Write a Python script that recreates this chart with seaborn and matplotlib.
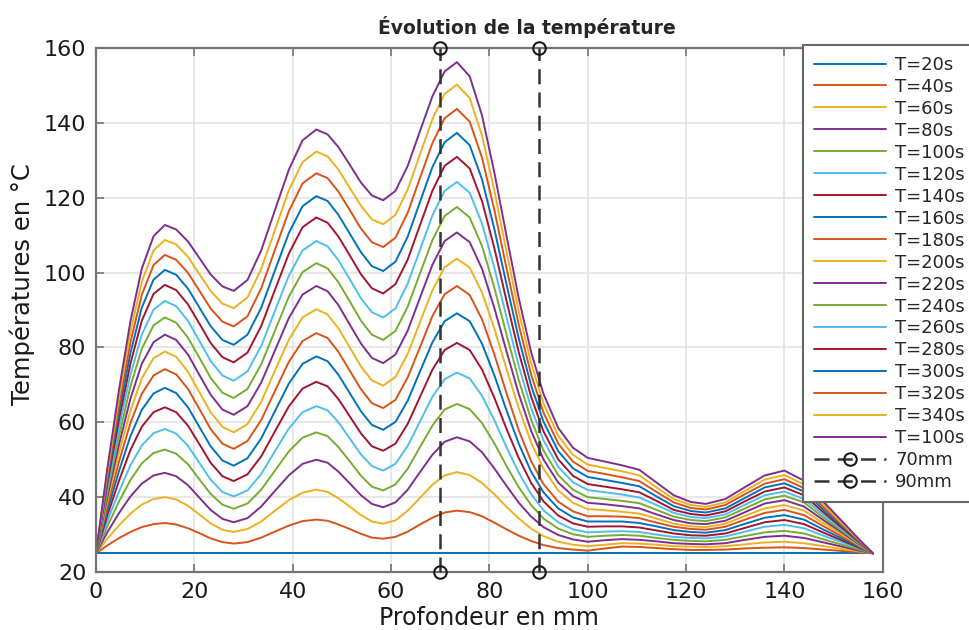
import matplotlib
matplotlib.use("Agg")
import matplotlib.pyplot as plt
import seaborn as sns

# Depth positions (mm) where temperatures were read
depth = [0, 2.3, 4.7, 7, 9.3, 11.7, 14,
         16.3, 18.7, 21, 23.3, 25.7, 28,
         30.8, 33.6, 36.4, 39.2, 42, 44.8,
         47.1, 49.3, 51.6, 53.9, 56.1, 58.4,
         60.9, 63.4, 65.9, 68.4, 70.9, 73.4,
         76, 78.5, 81, 83.5, 86, 88.5, 91, 94, 97, 100,
         103.5, 107, 110.5, 114, 117.5, 121, 124, 128, 132, 136, 140, 144, 148, 152, 155, 158]

t20_depth = [0, 158]
t20 = [25.0, 25.0]

t40 = [25.0, 27.1, 29.1, 30.7, 32.0, 32.8, 33.1,
       32.7, 31.7, 30.4, 29.0, 28.0, 27.6,
       28.0, 29.2, 30.8, 32.4, 33.6, 34.0,
       33.7, 32.7, 31.5, 30.2, 29.2, 28.9,
       29.4, 30.8, 32.7, 34.5, 35.9, 36.4,
       36.0, 34.9, 33.2, 31.4, 29.7, 28.3, 27.2, 26.4, 26.0, 25.7,
       26.3, 26.8, 26.7, 26.4, 26.1, 25.9, 25.9, 26.0, 26.3, 26.5, 26.6, 26.4, 26.0, 25.6, 25.3, 25.0]
t60 = [25.0, 28.9, 32.5, 35.6, 38.0, 39.5, 40.0,
       39.4, 37.7, 35.4, 33.0, 31.3, 30.7,
       31.5, 33.5, 36.4, 39.2, 41.2, 42.0,
       41.4, 39.7, 37.5, 35.2, 33.5, 32.9,
       33.8, 36.4, 39.8, 43.3, 45.8, 46.7,
       45.9, 43.8, 40.8, 37.4, 34.3, 31.6, 29.6, 28.1, 27.3, 26.9,
       27.3, 27.7, 27.6, 27.3, 26.9, 26.8, 26.7, 26.9, 27.4, 27.9, 28.1, 27.7, 26.9, 26.1, 25.6, 25.0]
t80 = [25.0, 30.6, 35.8, 40.2, 43.6, 45.8, 46.5,
       45.6, 43.2, 39.9, 36.6, 34.2, 33.3,
       34.4, 37.5, 41.7, 45.8, 48.9, 50.0,
       49.2, 46.8, 43.7, 40.5, 38.2, 37.3,
       38.6, 42.0, 46.7, 51.3, 54.8, 56.0,
       54.9, 52.0, 47.7, 43.0, 38.5, 34.8, 32.0, 29.9, 28.7, 28.1,
       28.5, 28.8, 28.6, 28.2, 27.7, 27.5, 27.4, 27.7, 28.6, 29.4, 29.7, 29.1, 27.9, 26.7, 25.8, 25.0]
t100 = [25.0, 32.2, 38.9, 44.6, 49.0, 51.8, 52.7,
        51.6, 48.8, 44.8, 40.9, 38.0, 36.9,
        38.3, 42.0, 47.1, 52.2, 55.9, 57.3,
        56.3, 53.4, 49.6, 45.7, 42.8, 41.8,
        43.4, 47.6, 53.4, 59.1, 63.4, 64.9,
        63.5, 59.8, 54.4, 48.3, 42.6, 37.9, 34.3, 31.6, 30.1, 29.4,
        29.7, 29.9, 29.7, 29.1, 28.6, 28.3, 28.2, 28.6, 29.6, 30.6, 31.0, 30.3, 28.7, 27.2, 26.1, 25.0]
t120 = [25.0, 33.6, 41.6, 48.5, 53.8, 57.1, 58.2,
        57.0, 53.7, 49.2, 44.7, 41.4, 40.2,
        41.8, 46.2, 52.3, 58.3, 62.7, 64.3,
        63.2, 60.0, 55.7, 51.4, 48.3, 47.1,
        48.9, 53.7, 60.2, 66.8, 71.5, 73.3,
        71.7, 67.1, 60.6, 53.3, 46.5, 40.8, 36.5, 33.3, 31.4, 30.6,
        30.8, 30.9, 30.7, 30.0, 29.4, 29.1, 29.0, 29.5, 30.8, 32.1, 32.6, 31.7, 29.7, 27.8, 26.4, 25.0]
t140 = [25.0, 35.1, 44.5, 52.6, 58.8, 62.7, 64.0,
        62.7, 59.1, 54.2, 49.2, 45.6, 44.3,
        46.1, 50.9, 57.6, 64.2, 69.0, 70.8,
        69.6, 66.2, 61.6, 57.0, 53.6, 52.4,
        54.3, 59.6, 66.8, 74.0, 79.3, 81.2,
        79.3, 74.1, 66.6, 58.2, 50.4, 43.8, 38.9, 35.1, 33.0, 32.1,
        32.2, 32.2, 31.9, 31.1, 30.3, 29.8, 29.7, 30.3, 31.8, 33.3, 33.9, 32.8, 30.5, 28.3, 26.6, 25.0]
t160 = [25.0, 36.4, 47.1, 56.3, 63.3, 67.7, 69.2,
        67.8, 64.0, 58.8, 53.6, 49.8, 48.4,
        50.4, 55.7, 63.0, 70.3, 75.6, 77.6,
        76.3, 72.7, 67.8, 62.9, 59.3, 58.0,
        60.1, 65.8, 73.6, 81.3, 87.0, 89.1,
        87.0, 81.0, 72.6, 63.1, 54.2, 46.8, 41.3, 37.0, 34.6, 33.5,
        33.5, 33.5, 33.1, 32.2, 31.2, 30.7, 30.5, 31.2, 32.9, 34.5, 35.2, 34.0, 31.3, 28.8, 26.8, 25.0]
t180 = [25.0, 37.7, 49.6, 59.8, 67.6, 72.5, 74.2,
        72.8, 68.9, 63.6, 58.2, 54.3, 52.9,
        55.0, 60.6, 68.4, 76.1, 81.7, 83.8,
        82.5, 78.8, 73.8, 68.8, 65.1, 63.8,
        66.0, 72.0, 80.1, 88.3, 94.2, 96.4,
        94.0, 87.5, 78.2, 67.7, 57.8, 49.6, 43.5, 38.8, 36.2, 34.9,
        34.9, 34.8, 34.4, 33.2, 32.1, 31.5, 31.3, 32.1, 34.0, 35.8, 36.6, 35.2, 32.2, 29.3, 27.1, 25.0]
t200 = [25.0, 39.0, 52.0, 63.1, 71.7, 77.1, 78.9,
        77.5, 73.5, 68.1, 62.7, 58.8, 57.3,
        59.5, 65.5, 73.8, 82.0, 88.0, 90.2,
        88.8, 85.1, 80.0, 74.9, 71.2, 69.8,
        72.1, 78.3, 86.8, 95.2, 101.4, 103.7,
        101.3, 94.7, 85.1, 74.2, 63.7, 54.6, 47.6, 41.8, 38.5, 36.8,
        36.5, 36.1, 35.6, 34.3, 32.9, 32.2, 32.0, 32.9, 35.0, 37.0, 37.9, 36.4, 33.0, 29.8, 27.3, 25.0]
t220 = [25.0, 40.1, 54.2, 66.3, 75.6, 81.4, 83.4,
        82.0, 78.1, 72.7, 67.4, 63.4, 62.0,
        64.3, 70.6, 79.2, 87.8, 94.1, 96.4,
        95.0, 91.3, 86.1, 81.0, 77.2, 75.8,
        78.1, 84.5, 93.3, 102.0, 108.4, 110.7,
        108.1, 101.0, 90.6, 78.9, 67.5, 57.7, 50.1, 43.9, 40.3, 38.5,
        38.1, 37.6, 37.0, 35.4, 33.9, 33.0, 32.8, 33.7, 36.0, 38.3, 39.2, 37.5, 33.8, 30.3, 27.6, 25.0]
t240 = [25.0, 41.3, 56.5, 69.6, 79.6, 85.9, 88.0,
        86.6, 82.6, 77.3, 71.9, 67.9, 66.5,
        68.9, 75.5, 84.5, 93.5, 100.1, 102.5,
        101.1, 97.4, 92.3, 87.1, 83.4, 82.0,
        84.4, 90.9, 99.8, 108.6, 115.1, 117.5,
        114.7, 107.1, 96.0, 83.4, 71.2, 60.7, 52.5, 45.9, 42.0, 40.0,
        39.5, 39.0, 38.4, 36.6, 34.8, 33.9, 33.6, 34.6, 37.0, 39.4, 40.4, 38.6, 34.5, 30.7, 27.8, 25.0]
t260 = [25.0, 42.4, 58.7, 72.7, 83.4, 90.1, 92.4,
        91.0, 87.1, 81.8, 76.4, 72.5, 71.1,
        73.6, 80.4, 89.8, 99.1, 105.9, 108.4,
        107.0, 103.3, 98.2, 93.1, 89.4, 88.0,
        90.4, 97.1, 106.1, 115.2, 121.8, 124.2,
        121.3, 113.1, 101.3, 88.0, 75.0, 63.8, 55.2, 48.1, 44.0, 41.9,
        41.3, 40.7, 39.9, 37.9, 35.8, 34.7, 34.4, 35.4, 38.0, 40.5, 41.5, 39.5, 35.2, 31.1, 28.0, 25.0]
t280 = [25.0, 43.6, 60.9, 75.7, 87.1, 94.3, 96.7,
        95.3, 91.5, 86.4, 81.2, 77.4, 76.0,
        78.6, 85.7, 95.4, 105.0, 112.1, 114.7,
        113.3, 109.6, 104.6, 99.5, 95.8, 94.4,
        96.9, 103.5, 112.7, 121.8, 128.5, 130.9,
        127.8, 119.1, 106.6, 92.4, 78.6, 66.8, 57.6, 50.1, 45.7, 43.5,
        42.8, 42.1, 41.3, 39.0, 36.6, 35.5, 35.1, 36.2, 38.9, 41.5, 42.6, 40.5, 35.9, 31.5, 28.2, 25.0]
t300 = [25.0, 44.6, 62.9, 78.5, 90.6, 98.1, 100.7,
        99.4, 95.7, 90.7, 85.7, 82.0, 80.7,
        83.4, 90.6, 100.6, 110.5, 117.7, 120.4,
        119.1, 115.4, 110.4, 105.4, 101.7, 100.4,
        102.9, 109.6, 118.9, 128.1, 134.8, 137.3,
        134.0, 124.9, 111.7, 96.8, 82.3, 69.8, 60.2, 52.3, 47.7, 45.4,
        44.6, 43.8, 42.9, 40.2, 37.6, 36.3, 35.9, 37.0, 39.8, 42.6, 43.7, 41.5, 36.6, 31.9, 28.4, 25.0]
t320 = [25.0, 45.6, 64.9, 81.4, 94.0, 102.0, 104.7,
        103.4, 99.9, 95.2, 90.4, 86.9, 85.6,
        88.3, 95.8, 106.1, 116.3, 123.8, 126.5,
        125.2, 121.6, 116.7, 111.7, 108.1, 106.8,
        109.3, 116.0, 125.3, 134.5, 141.2, 143.7,
        140.3, 130.7, 116.8, 101.1, 85.9, 72.7, 62.6, 54.3, 49.5, 47.0,
        46.2, 45.3, 44.3, 41.4, 38.6, 37.1, 36.7, 37.9, 40.8, 43.6, 44.8, 42.4, 37.3, 32.3, 28.6, 25.0]
t340 = [25.0, 46.7, 66.9, 84.2, 97.5, 105.9, 108.7,
        107.5, 104.2, 99.6, 95.1, 91.7, 90.5,
        93.3, 101.0, 111.4, 121.9, 129.5, 132.3,
        131.0, 127.5, 122.6, 117.8, 114.2, 112.9,
        115.4, 122.2, 131.6, 140.9, 147.7, 150.2,
        146.6, 136.6, 122.0, 105.5, 89.5, 75.8, 65.1, 56.4, 51.3, 48.7,
        47.8, 46.9, 45.8, 42.6, 39.5, 37.9, 37.4, 38.6, 41.7, 44.7, 45.9, 43.4, 38.0, 32.7, 28.8, 25.0]
t360 = [25.0, 47.7, 68.9, 87.0, 101.0, 109.7, 112.7,
        111.5, 108.3, 103.9, 99.5, 96.3, 95.1,
        98.0, 105.9, 116.7, 127.4, 135.3, 138.2,
        136.9, 133.5, 128.8, 124.0, 120.6, 119.3,
        121.8, 128.5, 137.8, 147.0, 153.7, 156.2,
        152.4, 142.0, 126.8, 109.7, 93.0, 78.7, 67.6, 58.5, 53.2, 50.5,
        49.5, 48.5, 47.3, 43.9, 40.5, 38.7, 38.2, 39.5, 42.7, 45.8, 47.1, 44.4, 38.7, 33.2, 29.0, 25.0]

labels = ["T=20s", "T=40s", "T=60s", "T=80s", "T=100s", "T=120s", "T=140s",
          "T=160s", "T=180s", "T=200s", "T=220s", "T=240s", "T=260s", "T=280s",
          "T=300s", "T=320s", "T=340s", "T=100s"]

probe_depths = [70, 90]
probe_labels = ["70mm", "90mm"]

matlab_colors = ["#0072BD", "#D95319", "#EDB120", "#7E2F8E",
                 "#77AC30", "#4DBEEE", "#A2142F"]

sns.set_theme(style="whitegrid")
plt.rcParams["font.family"] = ["DejaVu Sans"]

fig = plt.figure(figsize=(9.7, 6.3), dpi=100)
ax = fig.add_axes([0.099, 0.092, 0.811, 0.832])
ax.set_xlim(0, 160)
ax.set_ylim(20, 160)

curves = [t40, t60, t80, t100, t120, t140, t160, t180, t200,
          t220, t240, t260, t280, t300, t320, t340, t360]

sns.lineplot(x=t20_depth, y=t20, ax=ax, color=matlab_colors[0],
             linewidth=1.4, label=labels[0])
for i, temps in enumerate(curves, start=1):
    sns.lineplot(x=depth, y=temps, ax=ax, color=matlab_colors[i % 7],
                 linewidth=1.4, label=labels[i])

# vertical probe lines
y0, y1 = ax.get_ylim()
for d, lab in zip(probe_depths, probe_labels):
    ax.plot([d, d], [y0, y1], linestyle=(0, (6, 3.3)), color="0.2", lw=1.8,
            marker="o", ms=9, mfc="none", mec="0.1", mew=1.5,
            clip_on=False, label=lab, zorder=5)

ax.set_xticks(range(0, 161, 20))
ax.set_yticks(range(20, 161, 20))
ax.set_axisbelow(True)
ax.grid(True, color="#e3e3e3", linewidth=1.2)
for s in ax.spines.values():
    s.set_color("0.45")
    s.set_linewidth(1.6)
ax.tick_params(direction="in", length=6, width=1.2, color="0.45",
               top=True, right=True, bottom=True, left=True,
               labelsize=16, labelcolor="0.1", pad=7)

ax.set_xlabel("Profondeur en mm", fontsize=17, color="0.1", labelpad=3)
ax.set_ylabel("Températures en °C", fontsize=17.5, color="0.1")
ax.yaxis.set_label_coords(-0.078, 0.55)
ax.set_title("Évolution de la température", fontsize=13.5,
             fontweight="bold", x=0.548, pad=10)

leg = ax.legend(loc="upper left", bbox_to_anchor=(803 / 970, 1 - 45 / 630),
                bbox_transform=fig.transFigure, borderaxespad=0,
                fontsize=13, frameon=True, fancybox=False, framealpha=1,
                edgecolor="0.4", handlelength=4.0, handletextpad=0.5,
                labelspacing=0.22, borderpad=0.6)
leg.get_frame().set_linewidth(1.5)

fig.savefig("out.png", dpi=100)
